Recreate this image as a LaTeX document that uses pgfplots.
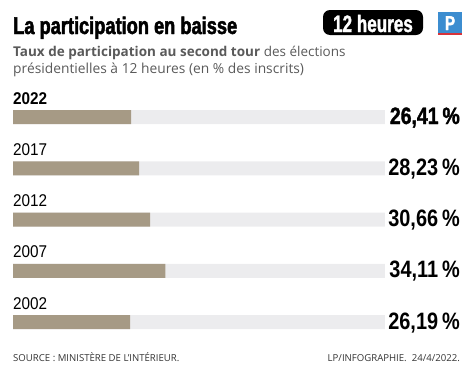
\documentclass[border=0pt]{standalone}
\usepackage{pgfplots}
\pgfplotsset{compat=1.18}
\usepackage{fontspec}
\setmainfont{Open Sans}
\newfontfamily\titlefont[FakeStretch=0.76,FakeBold=2]{Liberation Sans Bold}
\newfontfamily\badgefont[FakeStretch=0.72,FakeBold=1.5]{Liberation Sans Bold}
\newfontfamily\valboldfont[FakeStretch=0.82,FakeBold=1.5]{Liberation Sans Bold}
\newfontfamily\valfont[FakeStretch=0.84]{Liberation Sans Bold}
\newfontfamily\yearfont[FakeStretch=0.9]{Liberation Sans}
\definecolor{tan}{HTML}{A69A85}
\definecolor{bggray}{HTML}{ECECEE}
\definecolor{subgray}{HTML}{5A5A5A}
\definecolor{lpblue}{HTML}{3C8DD0}
\definecolor{lpred}{HTML}{D8333A}
\begin{document}
\begin{tikzpicture}
\path[use as bounding box] (0pt,0pt) rectangle (474pt,-378pt);
% title
\node[anchor=base west,inner sep=0] at (13pt,-34pt) {\titlefont\fontsize{24}{26}\selectfont La participation en baisse};
% badge
\fill[black,rounded corners=7pt] (323pt,-10pt) rectangle (423pt,-35pt);
\node[anchor=base,inner sep=0,text=white] at (373pt,-32pt) {\badgefont\fontsize{23.7}{26}\selectfont 12 heures};
% logo
\fill[lpblue] (438pt,-12pt) rectangle (462pt,-33pt);
\fill[lpred] (438pt,-33pt) rectangle (462pt,-35pt);
\node[anchor=base,inner sep=0,text=white] at (450pt,-30pt) {\titlefont\fontsize{20}{22}\selectfont P};
% subtitle
\node[anchor=base west,inner sep=0,text=subgray] at (13pt,-56pt) {\fontsize{13.5}{16}\selectfont\textbf{Taux de participation au second tour} des élections};
\node[anchor=base west,inner sep=0,text=subgray] at (13pt,-73pt) {\fontsize{13.8}{16}\selectfont présidentielles à 12 heures (en \% des inscrits)};
% footer
\node[anchor=base west,inner sep=0,text=black!80] at (13pt,-361pt) {\fontsize{9.6}{12}\selectfont SOURCE : MINISTÈRE DE L'INTÉRIEUR.};
\node[anchor=base east,inner sep=0,text=black!80] at (460pt,-361pt) {\fontsize{9.6}{12}\selectfont LP/INFOGRAPHIE.\ \ 24/4/2022.};
\begin{axis}[
  at={(13pt,-347.625pt)}, anchor=south west,
  scale only axis, width=447pt, height=256.25pt,
  xmin=0, xmax=100, ymin=-0.5, ymax=4.5, y dir=reverse,
  hide axis, clip=false,
  xbar, bar width=14pt, bar shift=0pt,
]
\addplot[fill=bggray, draw=none] coordinates {(83.2,0) (83.2,1) (83.2,2) (83.2,3) (83.2,4)};
\addplot[fill=tan, draw=none] coordinates {(26.41,0) (28.23,1) (30.66,2) (34.11,3) (26.19,4)};
% year labels
\node[anchor=base west,inner sep=0,yshift=13pt] at (axis cs:0,0) {\yearfont\bfseries\fontsize{17}{20}\selectfont 2022};
\node[anchor=base west,inner sep=0,yshift=13pt] at (axis cs:0,1) {\yearfont\fontsize{17}{20}\selectfont 2017};
\node[anchor=base west,inner sep=0,yshift=13pt] at (axis cs:0,2) {\yearfont\fontsize{17}{20}\selectfont 2012};
\node[anchor=base west,inner sep=0,yshift=13pt] at (axis cs:0,3) {\yearfont\fontsize{17}{20}\selectfont 2007};
\node[anchor=base west,inner sep=0,yshift=13pt] at (axis cs:0,4) {\yearfont\fontsize{17}{20}\selectfont 2002};
% values
\node[anchor=base east,inner sep=0,yshift=-7pt] at (axis cs:100,0) {\valboldfont\fontsize{23.7}{26}\selectfont 26,41\,\%};
\node[anchor=base east,inner sep=0,yshift=-7pt] at (axis cs:100,1) {\valfont\fontsize{23.7}{26}\selectfont 28,23\,\%};
\node[anchor=base east,inner sep=0,yshift=-7pt] at (axis cs:100,2) {\valfont\fontsize{23.7}{26}\selectfont 30,66\,\%};
\node[anchor=base east,inner sep=0,yshift=-7pt] at (axis cs:100,3) {\valfont\fontsize{23.7}{26}\selectfont 34,11\,\%};
\node[anchor=base east,inner sep=0,yshift=-7pt] at (axis cs:100,4) {\valfont\fontsize{23.7}{26}\selectfont 26,19\,\%};
\end{axis}
\end{tikzpicture}
\end{document}
